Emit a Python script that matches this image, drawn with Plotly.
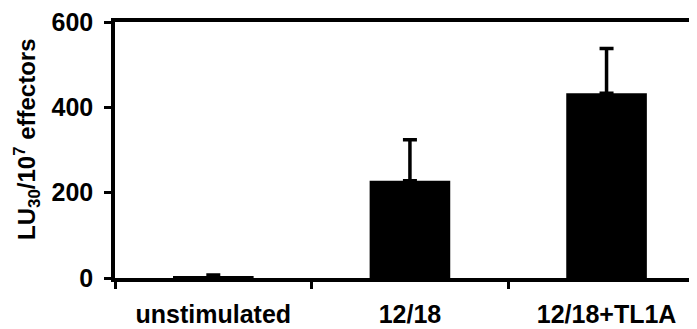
import plotly.graph_objects as go

categories = ["unstimulated", "12/18", "12/18+TL1A"]
values = [4, 228, 433]
errors_plus = [3, 96, 105]
y_ticks = [0, 200, 400, 600]

FONT = "Liberation Sans, Arial, sans-serif"

fig = go.Figure()
fig.add_trace(go.Bar(
    x=categories,
    y=values,
    width=0.41,
    marker=dict(color="black", line=dict(width=0)),
    error_y=dict(type="data", symmetric=False, array=errors_plus,
                 arrayminus=[0, 0, 0], color="black", thickness=3.5, width=7),
    showlegend=False,
))

# page body has an 8px margin, so the figure is sized/offset to compensate
fig.update_layout(
    width=689, height=321,
    margin=dict(l=107, r=0, t=14, b=51, autoexpand=False),
    paper_bgcolor="white", plot_bgcolor="white",
    xaxis=dict(
        type="category", range=[-0.5, 2.46], automargin=False,
        showline=True, linecolor="black", linewidth=3.5, mirror=True,
        ticks="outside", tickson="boundaries", ticklen=7, tickwidth=3, tickcolor="black",
        tickfont=dict(family=FONT, size=25, color="black", weight="bold"),
        ticklabelstandoff=11, showgrid=False, zeroline=False,
    ),
    yaxis=dict(
        range=[0, 600], tickvals=y_ticks, automargin=False,
        showline=True, linecolor="black", linewidth=3.5, mirror=False,
        ticks="outside", ticklen=7, tickwidth=3, tickcolor="black",
        tickfont=dict(family=FONT, size=25, color="black", weight="bold"),
        ticklabelstandoff=6, ticklabeloverflow="allow",
        showgrid=False, zeroline=False,
    ),
    annotations=[dict(
        text="LU<sub>30</sub>/10<sup>7</sup> effectors",
        xref="paper", yref="paper", x=-0.151, y=0.54,
        xanchor="center", yanchor="middle", textangle=-90, showarrow=False,
        font=dict(family=FONT, size=24, color="black", weight="bold"),
    )],
)

fig.write_html("out.html")
